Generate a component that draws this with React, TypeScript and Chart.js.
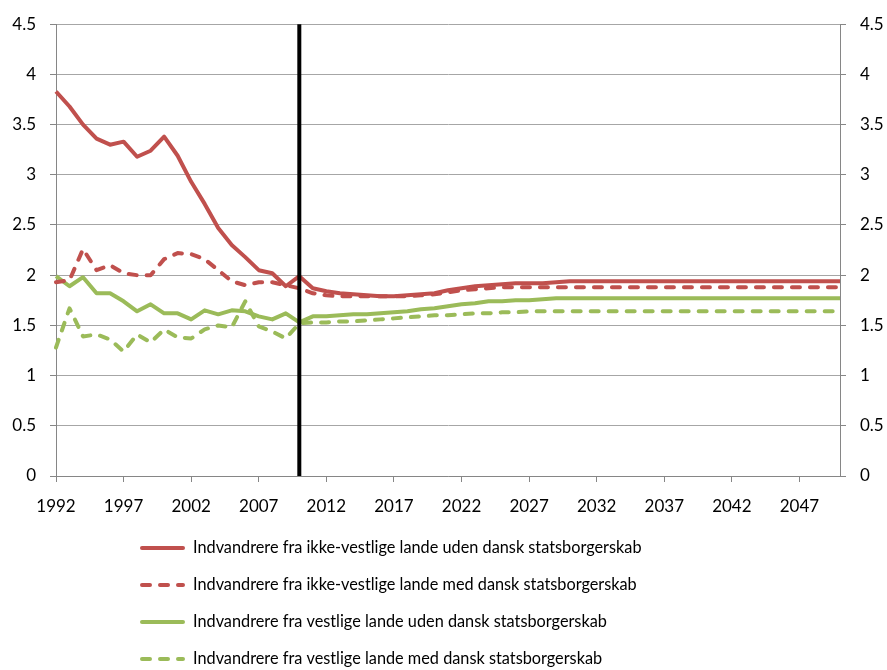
import React, { useEffect, useRef } from "react";
import { Chart, registerables } from "chart.js";

Chart.register(...registerables);

const years = [
  "1992", "1993", "1994", "1995", "1996", "1997", "1998", "1999", "2000", "2001",
  "2002", "2003", "2004", "2005", "2006", "2007", "2008", "2009", "2010", "2011",
  "2012", "2013", "2014", "2015", "2016", "2017", "2018", "2019", "2020", "2021",
  "2022", "2023", "2024", "2025", "2026", "2027", "2028", "2029", "2030", "2031",
  "2032", "2033", "2034", "2035", "2036", "2037", "2038", "2039", "2040", "2041",
  "2042", "2043", "2044", "2045", "2046", "2047", "2048", "2049", "2050",
];

const xTickLabels = ["1992", "1997", "2002", "2007", "2012", "2017", "2022", "2027", "2032", "2037", "2042", "2047"];

const markerYear = "2010";

const nonWesternWithout = [
  3.83, 3.68, 3.5, 3.36, 3.3, 3.33, 3.18, 3.24, 3.38, 3.19,
  2.93, 2.71, 2.47, 2.3, 2.18, 2.05, 2.02, 1.89, 1.99, 1.87,
  1.84, 1.82, 1.81, 1.8, 1.79, 1.79, 1.8, 1.81, 1.82, 1.85,
  1.87, 1.89, 1.9, 1.91, 1.92, 1.92, 1.92, 1.93, 1.94, 1.94,
  1.94, 1.94, 1.94, 1.94, 1.94, 1.94, 1.94, 1.94, 1.94, 1.94,
  1.94, 1.94, 1.94, 1.94, 1.94, 1.94, 1.94, 1.94, 1.94,
];

const nonWesternWith = [
  1.93, 1.95, 2.26, 2.05, 2.1, 2.02, 2.0, 2.0, 2.16, 2.22,
  2.21, 2.16, 2.05, 1.94, 1.9, 1.93, 1.93, 1.9, 1.87, 1.82,
  1.8, 1.79, 1.79, 1.79, 1.79, 1.79, 1.79, 1.8, 1.81, 1.83,
  1.85, 1.86, 1.87, 1.88, 1.88, 1.88, 1.88, 1.88, 1.88, 1.88,
  1.88, 1.88, 1.88, 1.88, 1.88, 1.88, 1.88, 1.88, 1.88, 1.88,
  1.88, 1.88, 1.88, 1.88, 1.88, 1.88, 1.88, 1.88, 1.88,
];

const westernWithout = [
  1.99, 1.89, 1.98, 1.82, 1.82, 1.74, 1.64, 1.71, 1.62, 1.62,
  1.56, 1.65, 1.61, 1.65, 1.64, 1.59, 1.56, 1.62, 1.53, 1.59,
  1.59, 1.6, 1.61, 1.61, 1.62, 1.63, 1.64, 1.66, 1.67, 1.69,
  1.71, 1.72, 1.74, 1.74, 1.75, 1.75, 1.76, 1.77, 1.77, 1.77,
  1.77, 1.77, 1.77, 1.77, 1.77, 1.77, 1.77, 1.77, 1.77, 1.77,
  1.77, 1.77, 1.77, 1.77, 1.77, 1.77, 1.77, 1.77, 1.77,
];

const westernWith = [
  1.28, 1.67, 1.39, 1.41, 1.36, 1.24, 1.41, 1.33, 1.46, 1.38,
  1.37, 1.46, 1.5, 1.48, 1.74, 1.49, 1.44, 1.37, 1.52, 1.53,
  1.53, 1.54, 1.54, 1.55, 1.56, 1.57, 1.58, 1.59, 1.6, 1.6,
  1.61, 1.62, 1.62, 1.63, 1.63, 1.64, 1.64, 1.64, 1.64, 1.64,
  1.64, 1.64, 1.64, 1.64, 1.64, 1.64, 1.64, 1.64, 1.64, 1.64,
  1.64, 1.64, 1.64, 1.64, 1.64, 1.64, 1.64, 1.64, 1.64,
];

const seriesLabels = [
  "Indvandrere fra ikke-vestlige lande uden dansk statsborgerskab",
  "Indvandrere fra ikke-vestlige lande med dansk statsborgerskab",
  "Indvandrere fra vestlige lande uden dansk statsborgerskab",
  "Indvandrere fra vestlige lande med dansk statsborgerskab",
];

const RED = "#C0504D";
const GREEN = "#9BBB59";
const AXIS = "#868686";
const GRID = "#a6a6a6";
const FONT = "Lato, 'Liberation Sans', sans-serif";
const DASH = [8, 10];

const legendPlugin = {
  id: "customLegend",
  afterDraw(chart: any) {
    const ctx = chart.ctx;
    const rows = [548, 585, 622, 659];
    ctx.save();
    chart.data.datasets.forEach((ds: any, i: number) => {
      const y = rows[i];
      ctx.beginPath();
      ctx.strokeStyle = ds.borderColor;
      ctx.lineWidth = 4;
      ctx.lineCap = "round";
      ctx.setLineDash(ds.borderDash || []);
      ctx.moveTo(142, y);
      ctx.lineTo(183, y);
      ctx.stroke();
      ctx.setLineDash([]);
      ctx.fillStyle = "#000";
      ctx.font = `16.3px ${FONT}`;
      ctx.textAlign = "left";
      ctx.textBaseline = "middle";
      ctx.fillText(ds.label, 193, y);
    });
    ctx.restore();
  },
};

const markerPlugin = {
  id: "markerLine",
  afterDatasetsDraw(chart: any) {
    const x = chart.scales.x.getPixelForValue(years.indexOf(markerYear));
    const { top, bottom } = chart.chartArea;
    const ctx = chart.ctx;
    ctx.save();
    ctx.beginPath();
    ctx.strokeStyle = "#000";
    ctx.lineWidth = 4;
    ctx.moveTo(x, top);
    ctx.lineTo(x, bottom);
    ctx.stroke();
    ctx.restore();
  },
};

const fmtY = (v: any) => String(Number(v));

export default function App() {
  const ref = useRef<HTMLCanvasElement | null>(null);

  useEffect(() => {
    if (!ref.current) return;
    const mk = (label: string, data: number[], color: string, dashed: boolean) => ({
      label,
      data,
      borderColor: color,
      backgroundColor: color,
      borderWidth: 4,
      borderDash: dashed ? DASH : [],
      borderCapStyle: dashed ? "round" : "butt",
      borderJoinStyle: "round",
      pointRadius: 0,
      tension: 0,
      fill: false,
    });
    const chart = new Chart(ref.current, {
      type: "line",
      data: {
        labels: years,
        datasets: [
          mk(seriesLabels[0], nonWesternWithout, RED, false),
          mk(seriesLabels[1], nonWesternWith, RED, true),
          mk(seriesLabels[2], westernWithout, GREEN, false),
          mk(seriesLabels[3], westernWith, GREEN, true),
        ] as any,
      },
      options: {
        responsive: false,
        animation: false,
        layout: { padding: { top: 20, left: 0, right: 0, bottom: 0 } },
        plugins: { legend: { display: false }, tooltip: { enabled: false } },
        scales: {
          x: {
            type: "category",
            offset: false,
            border: { color: AXIS, width: 1 },
            grid: {
              drawOnChartArea: false,
              drawTicks: true,
              tickLength: 6,
              tickColor: (c: any) =>
                c.tick && xTickLabels.includes(years[c.index]) ? AXIS : "rgba(0,0,0,0)",
            },
            ticks: {
              autoSkip: false,
              maxRotation: 0,
              minRotation: 0,
              padding: 14,
              color: "#000",
              font: { family: FONT, size: 17 },
              callback: (_v: any, i: number) =>
                xTickLabels.includes(years[i]) ? years[i] : "",
            },
            afterFit: (s: any) => {
              s.height = 194;
            },
          },
          y: {
            position: "left",
            min: 0,
            max: 4.5,
            border: { color: AXIS, width: 1 },
            grid: { color: GRID, lineWidth: 1, tickLength: 6, tickColor: AXIS },
            ticks: {
              stepSize: 0.5,
              padding: 14,
              color: "#000",
              font: { family: FONT, size: 17 },
              callback: fmtY,
            },
            afterFit: (s: any) => {
              s.width = 56;
            },
          },
          y2: {
            position: "right",
            min: 0,
            max: 4.5,
            border: { color: AXIS, width: 1 },
            grid: { drawOnChartArea: false, tickLength: 6, tickColor: AXIS },
            ticks: {
              stepSize: 0.5,
              padding: 14,
              color: "#000",
              font: { family: FONT, size: 17 },
              callback: fmtY,
            },
            afterFit: (s: any) => {
              s.width = 47;
            },
          },
        },
      } as any,
      plugins: [markerPlugin, legendPlugin],
    });
    return () => chart.destroy();
  }, []);

  return (
    <div style={{ position: "absolute", left: 0, top: 0, width: 887, height: 670, background: "#fff" }}>
      <canvas ref={ref} width={887} height={670} style={{ display: "block" }} />
    </div>
  );
}
